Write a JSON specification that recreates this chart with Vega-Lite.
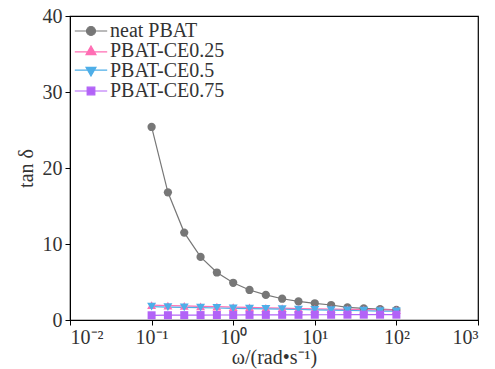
{
  "$schema": "https://vega.github.io/schema/vega-lite/v6.json",
  "width": 408,
  "height": 304,
  "autosize": "none",
  "padding": {"left": 70, "top": 16, "right": 17, "bottom": 49},
  "background": "white",
  "config": {
    "font": "'Liberation Serif', 'Times New Roman', serif",
    "view": {"stroke": "#000", "strokeWidth": 1.2},
    "axis": {"grid": false, "domainColor": "#000", "tickColor": "#000", "labelColor": "#333", "titleColor": "#333", "labelFont": "'Liberation Serif', 'Times New Roman', serif", "titleFont": "'Liberation Serif', 'Times New Roman', serif", "labelFontSize": 20, "titleFontSize": 20, "titleFontWeight": "normal", "tickSize": 5},
    "legend": {"labelFont": "'Liberation Serif', 'Times New Roman', serif"}
  },
  "data": {"values": [
    {"s": "neat PBAT", "w": 0.1, "t": 25.4},
    {"s": "neat PBAT", "w": 0.1585, "t": 16.8},
    {"s": "neat PBAT", "w": 0.2512, "t": 11.5},
    {"s": "neat PBAT", "w": 0.3981, "t": 8.3},
    {"s": "neat PBAT", "w": 0.631, "t": 6.25},
    {"s": "neat PBAT", "w": 1, "t": 4.9},
    {"s": "neat PBAT", "w": 1.585, "t": 3.95},
    {"s": "neat PBAT", "w": 2.512, "t": 3.3},
    {"s": "neat PBAT", "w": 3.981, "t": 2.8},
    {"s": "neat PBAT", "w": 6.31, "t": 2.45},
    {"s": "neat PBAT", "w": 10, "t": 2.2},
    {"s": "neat PBAT", "w": 15.85, "t": 1.97},
    {"s": "neat PBAT", "w": 25.12, "t": 1.67},
    {"s": "neat PBAT", "w": 39.81, "t": 1.54},
    {"s": "neat PBAT", "w": 63.1, "t": 1.42},
    {"s": "neat PBAT", "w": 100, "t": 1.33},
    {"s": "PBAT-CE0.25", "w": 0.1, "t": 1.95},
    {"s": "PBAT-CE0.25", "w": 0.1585, "t": 1.9},
    {"s": "PBAT-CE0.25", "w": 0.2512, "t": 1.85},
    {"s": "PBAT-CE0.25", "w": 0.3981, "t": 1.8},
    {"s": "PBAT-CE0.25", "w": 0.631, "t": 1.75},
    {"s": "PBAT-CE0.25", "w": 1, "t": 1.7},
    {"s": "PBAT-CE0.25", "w": 1.585, "t": 1.65},
    {"s": "PBAT-CE0.25", "w": 2.512, "t": 1.6},
    {"s": "PBAT-CE0.25", "w": 3.981, "t": 1.55},
    {"s": "PBAT-CE0.25", "w": 6.31, "t": 1.5},
    {"s": "PBAT-CE0.25", "w": 10, "t": 1.47},
    {"s": "PBAT-CE0.25", "w": 15.85, "t": 1.43},
    {"s": "PBAT-CE0.25", "w": 25.12, "t": 1.4},
    {"s": "PBAT-CE0.25", "w": 39.81, "t": 1.37},
    {"s": "PBAT-CE0.25", "w": 63.1, "t": 1.33},
    {"s": "PBAT-CE0.25", "w": 100, "t": 1.3},
    {"s": "PBAT-CE0.5", "w": 0.1, "t": 1.75},
    {"s": "PBAT-CE0.5", "w": 0.1585, "t": 1.7},
    {"s": "PBAT-CE0.5", "w": 0.2512, "t": 1.66},
    {"s": "PBAT-CE0.5", "w": 0.3981, "t": 1.62},
    {"s": "PBAT-CE0.5", "w": 0.631, "t": 1.58},
    {"s": "PBAT-CE0.5", "w": 1, "t": 1.54},
    {"s": "PBAT-CE0.5", "w": 1.585, "t": 1.5},
    {"s": "PBAT-CE0.5", "w": 2.512, "t": 1.46},
    {"s": "PBAT-CE0.5", "w": 3.981, "t": 1.42},
    {"s": "PBAT-CE0.5", "w": 6.31, "t": 1.38},
    {"s": "PBAT-CE0.5", "w": 10, "t": 1.34},
    {"s": "PBAT-CE0.5", "w": 15.85, "t": 1.3},
    {"s": "PBAT-CE0.5", "w": 25.12, "t": 1.26},
    {"s": "PBAT-CE0.5", "w": 39.81, "t": 1.22},
    {"s": "PBAT-CE0.5", "w": 63.1, "t": 1.18},
    {"s": "PBAT-CE0.5", "w": 100, "t": 1.15},
    {"s": "PBAT-CE0.75", "w": 0.1, "t": 0.62},
    {"s": "PBAT-CE0.75", "w": 0.1585, "t": 0.63},
    {"s": "PBAT-CE0.75", "w": 0.2512, "t": 0.64},
    {"s": "PBAT-CE0.75", "w": 0.3981, "t": 0.65},
    {"s": "PBAT-CE0.75", "w": 0.631, "t": 0.66},
    {"s": "PBAT-CE0.75", "w": 1, "t": 0.66},
    {"s": "PBAT-CE0.75", "w": 1.585, "t": 0.67},
    {"s": "PBAT-CE0.75", "w": 2.512, "t": 0.67},
    {"s": "PBAT-CE0.75", "w": 3.981, "t": 0.68},
    {"s": "PBAT-CE0.75", "w": 6.31, "t": 0.68},
    {"s": "PBAT-CE0.75", "w": 10, "t": 0.69},
    {"s": "PBAT-CE0.75", "w": 15.85, "t": 0.69},
    {"s": "PBAT-CE0.75", "w": 25.12, "t": 0.7},
    {"s": "PBAT-CE0.75", "w": 39.81, "t": 0.7},
    {"s": "PBAT-CE0.75", "w": 63.1, "t": 0.7},
    {"s": "PBAT-CE0.75", "w": 100, "t": 0.7}
  ]},
  "encoding": {
    "x": {"field": "w", "type": "quantitative",
      "scale": {"type": "log", "domain": [0.01, 1000], "nice": false},
      "axis": {"values": [0.01, 0.1, 1, 10, 100, 1000], "title": "ω/(rad•s⁻¹)", "titlePadding": 0, "labelPadding": 2,
        "labelExpr": "'10' + replace(replace(replace(replace(replace('' + round(log(datum.value)/LN10), '-', '⁻'), '0', '⁰'), '1', '¹'), '2', '²'), '3', '³')"}},
    "y": {"field": "t", "type": "quantitative",
      "scale": {"domain": [0, 40], "nice": false},
      "axis": {"values": [0, 10, 20, 30, 40], "title": "tan δ", "titlePadding": 6, "labelPadding": 3}},
    "color": {"field": "s", "type": "nominal",
      "scale": {"domain": ["neat PBAT", "PBAT-CE0.25", "PBAT-CE0.5", "PBAT-CE0.75"],
                "range": ["#777777", "#ff6eb4", "#4eaee8", "#b263f7"]},
      "legend": {"title": null, "orient": "none", "legendX": 11, "legendY": 5, "padding": 0,
           "labelFontSize": 20, "labelColor": "#333", "labelOffset": 9,
           "symbolSize": 81, "rowPadding": -3,
           "encode": {"symbols": {"update": {
             "shape": {"signal": "datum.value === 'neat PBAT' ? 'M-3.6,0H3.6M-1,0A1,1,0,1,0,1,0A1,1,0,1,0,-1,0Z' : datum.value === 'PBAT-CE0.25' ? 'M-3.6,0.2H3.6M0,-1.1L1.1,0.8L-1.1,0.8Z' : datum.value === 'PBAT-CE0.5' ? 'M-3.6,-0.2H3.6M0,1.1L1.1,-0.8L-1.1,-0.8Z' : 'M-3.6,0H3.6M-0.85,-0.85H0.85V0.85H-0.85Z'"},
             "fill": {"scale": "color", "field": "value"},
             "stroke": {"scale": "color", "field": "value"},
             "strokeWidth": {"value": 1.2},
             "opacity": {"value": 1},
             "fillOpacity": {"value": 1}
           }}}}
    }
  },
  "layer": [
    {"mark": {"type": "line", "strokeWidth": 1.2},
     "encoding": {}},
    {"transform": [{"filter": {"field": "s", "equal": "neat PBAT"}}],
     "mark": {"type": "point", "shape": "circle", "filled": true, "opacity": 1, "size": 68}},
    {"transform": [{"filter": {"field": "s", "equal": "PBAT-CE0.25"}}],
     "mark": {"type": "point", "shape": "triangle-up", "filled": true, "opacity": 1, "size": 80}},
    {"transform": [{"filter": {"field": "s", "equal": "PBAT-CE0.5"}}],
     "mark": {"type": "point", "shape": "triangle-down", "filled": true, "opacity": 1, "size": 80}},
    {"transform": [{"filter": {"field": "s", "equal": "PBAT-CE0.75"}}],
     "mark": {"type": "point", "shape": "square", "filled": true, "opacity": 1, "size": 64}}
  ]
}
